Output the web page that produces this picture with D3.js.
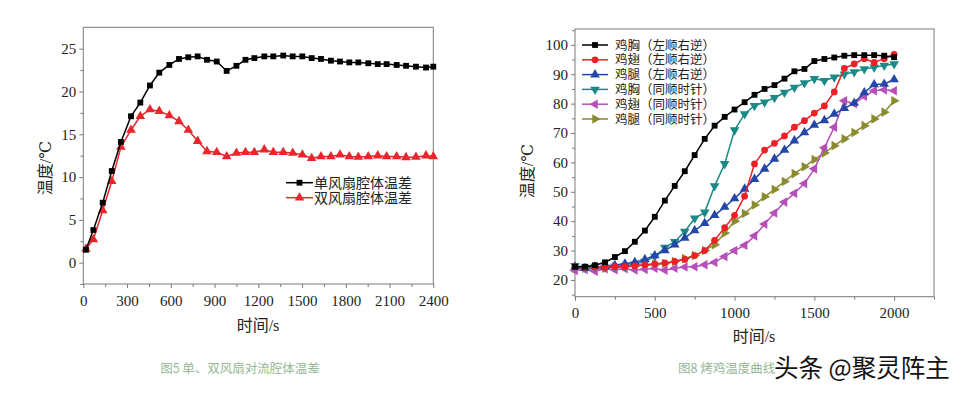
<!DOCTYPE html>
<html lang="zh">
<head>
  <meta charset="UTF-8">
  <script src="https://d3js.org/d3.v7.min.js"></script>
  <title>温差与烤鸡温度</title>
  <style>
    body { margin: 0; background: #fff; }
  </style>
</head>
<body>
<script>
  /*
    Data for figure 5 (left)
  */
  const leftTime = [18, 69, 133, 195, 258, 327, 391, 457, 521, 590, 656, 720, 784, 848, 915, 983, 1050, 1112,
    1173, 1241, 1303, 1371, 1436, 1502, 1566, 1630, 1698, 1760, 1824, 1886, 1954, 2019, 2080, 2149, 2213, 2281, 2350, 2400]
  const singleFan = [1.5, 3.8, 7.0, 10.7, 14.1, 17.1, 18.7, 20.7, 22.2, 23.1, 23.8, 24.0, 24.1, 23.7, 23.5, 22.4, 23.0, 23.7,
    23.9, 24.1, 24.1, 24.2, 24.1, 24.1, 23.9, 23.8, 23.6, 23.5, 23.4, 23.4, 23.3, 23.2, 23.2, 23.1, 23.0, 22.9, 22.8, 22.9]
  const doubleFan = [1.6, 2.7, 6.1, 9.5, 13.5, 15.5, 17.1, 17.9, 17.7, 17.2, 16.5, 15.5, 14.2, 13.0, 12.9, 12.4, 12.8, 12.9,
    12.9, 13.2, 12.9, 12.9, 12.8, 12.6, 12.2, 12.4, 12.4, 12.6, 12.4, 12.35, 12.4, 12.5, 12.4, 12.4, 12.3, 12.35, 12.5, 12.4]
  const leftNames = ["单风扇腔体温差", "双风扇腔体温差"]
  const leftXTicks = [0, 300, 600, 900, 1200, 1500, 1800, 2100, 2400]
  const leftYTicks = [0, 5, 10, 15, 20, 25]

  /*
    Data for figure 8 (right)
  */
  const rightTime = [0, 63, 125, 188, 250, 313, 375, 438, 500, 563, 625, 688, 750, 813, 875, 938, 1000,
    1063, 1125, 1188, 1250, 1313, 1375, 1438, 1500, 1563, 1625, 1688, 1750, 1813, 1875, 1938, 2000]
  const breastA = [24.5, 24.5, 25, 26, 27.8, 29.8, 33, 36.8, 41.5, 47, 52, 57, 62.5, 68, 72.5, 75.5, 78,
    80.5, 83, 85, 86.3, 88.5, 91, 91.8, 94.5, 95.2, 95.7, 96.3, 96.5, 96.5, 96.5, 96.3, 95.8]
  const wingA = [24.5, 24.3, 24.5, 24.2, 24.5, 24.5, 24.8, 25.2, 25.5, 25.8, 26.3, 27, 28.3, 30, 33.5, 37.8, 42,
    48.5, 59.5, 64.2, 66.5, 69, 72, 74.2, 76.8, 79.2, 84, 92, 93.5, 95.3, 94, 95.3, 96.8]
  const legA = [24.5, 24, 24.5, 24.5, 25, 25.5, 26, 27, 28.3, 30, 32, 34.3, 36.8, 39.3, 42, 44.8, 47.7,
    51, 54.3, 57.8, 61.2, 64.2, 67.4, 70.2, 72.7, 74.3, 76.5, 78.4, 80.2, 83.8, 86.5, 86.7, 88.2]
  const breastB = [24.8, 24.2, 24.6, 24.3, 24.6, 24.8, 25.3, 26.3, 28, 31, 33, 36.5, 41, 43, 52, 59.5, 71,
    76.5, 79.3, 80.5, 82, 83.8, 85.5, 87, 88.5, 87.8, 89, 90, 90.8, 91.8, 92.4, 93, 93.5]
  const wingB = [23.2, 23.6, 23, 23.8, 23.5, 23.8, 23.4, 23.6, 24, 23.3, 24, 24.4, 24.5, 25.2, 26, 28, 30,
    31.8, 35, 39, 42.8, 46.5, 49.5, 52.8, 57.8, 65, 72, 81, 80, 82.5, 84.4, 84.7, 84.4]
  const legB = [24, 24, 24.2, 24, 24.5, 24.5, 24.8, 25, 25.2, 25.6, 26.3, 27.3, 28.3, 30, 32, 36, 40,
    42.6, 45.5, 48.3, 50.8, 53.5, 56.2, 58.5, 61, 63.2, 65.7, 68, 70.2, 72.5, 74.8, 77.1, 81]
  const rightNames = ["鸡胸（左顺右逆）", "鸡翅（左顺右逆）", "鸡腿（左顺右逆）",
    "鸡胸（同顺时针）", "鸡翅（同顺时针）", "鸡腿（同顺时针）"]
  const rightXTicks = [0, 500, 1000, 1500, 2000]
  const rightYTicks = [20, 30, 40, 50, 60, 70, 80, 90, 100]

  let width = 963
  let height = 394
  let frameColor = "#7a7a7a"
  let serif = "'Liberation Serif', 'DejaVu Serif', serif, 'Noto Sans CJK SC'"
  let cjk = "'Noto Sans CJK SC', sans-serif"

  let svg = d3.select("body").append("svg")
    .attr("width", width)
    .attr("height", height)

  // draws frame, axes, minor ticks, labels
  function drawFrame(x, y, xTicks, yTicks, xMinor, yMinor) {
    let g = svg.append("g")
    let [x0, x1] = x.range()
    let [y0, y1] = y.range()

    g.append("rect")
      .attr("x", x0).attr("y", y1)
      .attr("width", x1 - x0).attr("height", y0 - y1)
      .attr("fill", "none").attr("stroke", frameColor)

    let fmt = d3.format("d")
    let xa = g.append("g").attr("transform", `translate(0,${y0})`)
      .call(d3.axisBottom(x).tickValues(xTicks).tickFormat(fmt).tickSize(4).tickSizeOuter(0).tickPadding(4))
    let xm = g.append("g").attr("transform", `translate(0,${y0})`)
      .call(d3.axisBottom(x).tickValues(xMinor).tickSize(3).tickSizeOuter(0).tickFormat(""))
    let ya = g.append("g").attr("transform", `translate(${x0},0)`)
      .call(d3.axisLeft(y).tickValues(yTicks).tickFormat(fmt).tickSize(4).tickSizeOuter(0).tickPadding(3))
    let ym = g.append("g").attr("transform", `translate(${x0},0)`)
      .call(d3.axisLeft(y).tickValues(yMinor).tickSize(3).tickSizeOuter(0).tickFormat(""))

    ;[xa, xm, ya, ym].forEach(a => {
      a.attr("font-family", null)
      a.select(".domain").remove()
      a.selectAll("line").attr("stroke", frameColor)
    })
    ;[xa, ya].forEach(a => a.selectAll("text")
      .attr("fill", "#222")
      .style("font-family", serif)
      .style("font-size", "15px"))
    xa.selectAll("text").attr("dy", "0.9em")
    return g
  }

  function drawSeries(x, y, xs, ys, color, symbol, rotate, size) {
    let pts = xs.map((t, i) => [t, ys[i]])
    let line = d3.line().x(d => x(d[0])).y(d => y(d[1]))
    svg.append("path")
      .datum(pts)
      .attr("d", line)
      .attr("fill", "none")
      .attr("stroke", color)
      .attr("stroke-width", 1.5)
    svg.append("g").selectAll("path")
      .data(pts)
      .enter()
      .append("path")
      .attr("d", d3.symbol().type(symbol).size(size))
      .attr("transform", d => `translate(${x(d[0])},${y(d[1])}) rotate(${rotate})`)
      .attr("fill", color)
  }

  function label(x, y, txt, size, rot) {
    let t = svg.append("text")
      .attr("text-anchor", "middle")
      .style("font-family", serif)
      .style("font-size", size + "px")
      .attr("fill", "#222")
      .text(txt)
    if (rot) t.attr("transform", `translate(${x},${y}) rotate(-90)`)
    else t.attr("x", x).attr("y", y)
  }

  /*
    Left chart
  */
  let xL = d3.scaleLinear().domain([0, 2400]).range([83.3, 433.3])
  let yL = d3.scaleLinear().domain([-2.5, 27.5]).range([284, 27.3])
  drawFrame(xL, yL, leftXTicks, leftYTicks,
    [150, 450, 750, 1050, 1350, 1650, 1950, 2250],
    [-2.5, 2.5, 7.5, 12.5, 17.5, 22.5])

  drawSeries(xL, yL, leftTime, doubleFan, "#e8262b", d3.symbolTriangle, 0, 40)
  drawSeries(xL, yL, leftTime, singleFan, "#000", d3.symbolSquare, 0, 34)

  label(258, 331, "时间/s", 16)
  label(51, 168, "温度/℃", 16, true)

  // left legend
  let legL = [["#000", d3.symbolSquare, 34], ["#e8262b", d3.symbolTriangle, 40]]
  legL.forEach((l, i) => {
    let ly = 182.7 + i * 15
    svg.append("line").attr("x1", 286).attr("x2", 313).attr("y1", ly).attr("y2", ly)
      .attr("stroke", l[0]).attr("stroke-width", 1.5)
    svg.append("path").attr("d", d3.symbol().type(l[1]).size(l[2]))
      .attr("transform", `translate(299.5,${ly})`).attr("fill", l[0])
    svg.append("text").attr("x", 314).attr("y", ly + 5)
      .style("font-family", serif)
      .style("font-size", "14px").attr("fill", "#222").text(leftNames[i])
  })

  /*
    Right chart
  */
  let xR = d3.scaleLinear().domain([0, 2250]).range([575, 934])
  let yR = d3.scaleLinear().domain([14.3, 105.4]).range([296.7, 29])
  drawFrame(xR, yR, rightXTicks, rightYTicks,
    [250, 750, 1250, 1750, 2250],
    [15, 25, 35, 45, 55, 65, 75, 85, 95, 105])

  let rightSeries = [
    [legB, "#8a8a2e", d3.symbolTriangle, 90, 40],
    [wingB, "#b64fb8", d3.symbolTriangle, -90, 40],
    [breastB, "#1b8a86", d3.symbolTriangle, 180, 40],
    [legA, "#2346a8", d3.symbolTriangle, 0, 40],
    [wingA, "#ee1f26", d3.symbolCircle, 0, 36],
    [breastA, "#000", d3.symbolSquare, 0, 34]
  ]
  rightSeries.forEach(s => drawSeries(xR, yR, rightTime, s[0], s[1], s[2], s[3], s[4]))

  label(754, 342, "时间/s", 16)
  label(533, 171, "温度/℃", 16, true)

  // right legend, same order as names
  let legOrder = [5, 4, 3, 2, 1, 0]
  legOrder.forEach((k, i) => {
    let s = rightSeries[k]
    let ly = 45 + i * 14.8
    svg.append("line").attr("x1", 582).attr("x2", 608).attr("y1", ly).attr("y2", ly)
      .attr("stroke", s[1]).attr("stroke-width", 1.5)
    svg.append("path").attr("d", d3.symbol().type(s[2]).size(s[4]))
      .attr("transform", `translate(595,${ly}) rotate(${s[3]})`).attr("fill", s[1])
    svg.append("text").attr("x", 615).attr("y", ly + 4.5)
      .style("font-family", serif)
      .style("font-size", "12.5px").attr("fill", "#222").text(rightNames[i])
  })

  /*
    Captions and watermark
  */
  svg.append("text").attr("x", 240).attr("y", 373)
    .attr("text-anchor", "middle").style("font-size", "12.5px")
    .style("font-family", cjk).attr("fill", "#93b795")
    .text("图5 单、双风扇对流腔体温差")
  svg.append("text").attr("x", 678).attr("y", 373)
    .style("font-size", "12.5px")
    .style("font-family", cjk).attr("fill", "#93b795")
    .text("图8 烤鸡温度曲线")
  svg.append("text").attr("x", 774).attr("y", 377)
    .style("font-size", "24.5px")
    .style("font-family", cjk)
    .attr("fill", "#111")
    .attr("stroke", "#fff").attr("stroke-width", 3)
    .attr("paint-order", "stroke")
    .text("头条 @聚灵阵主")
</script>
</body>
</html>
